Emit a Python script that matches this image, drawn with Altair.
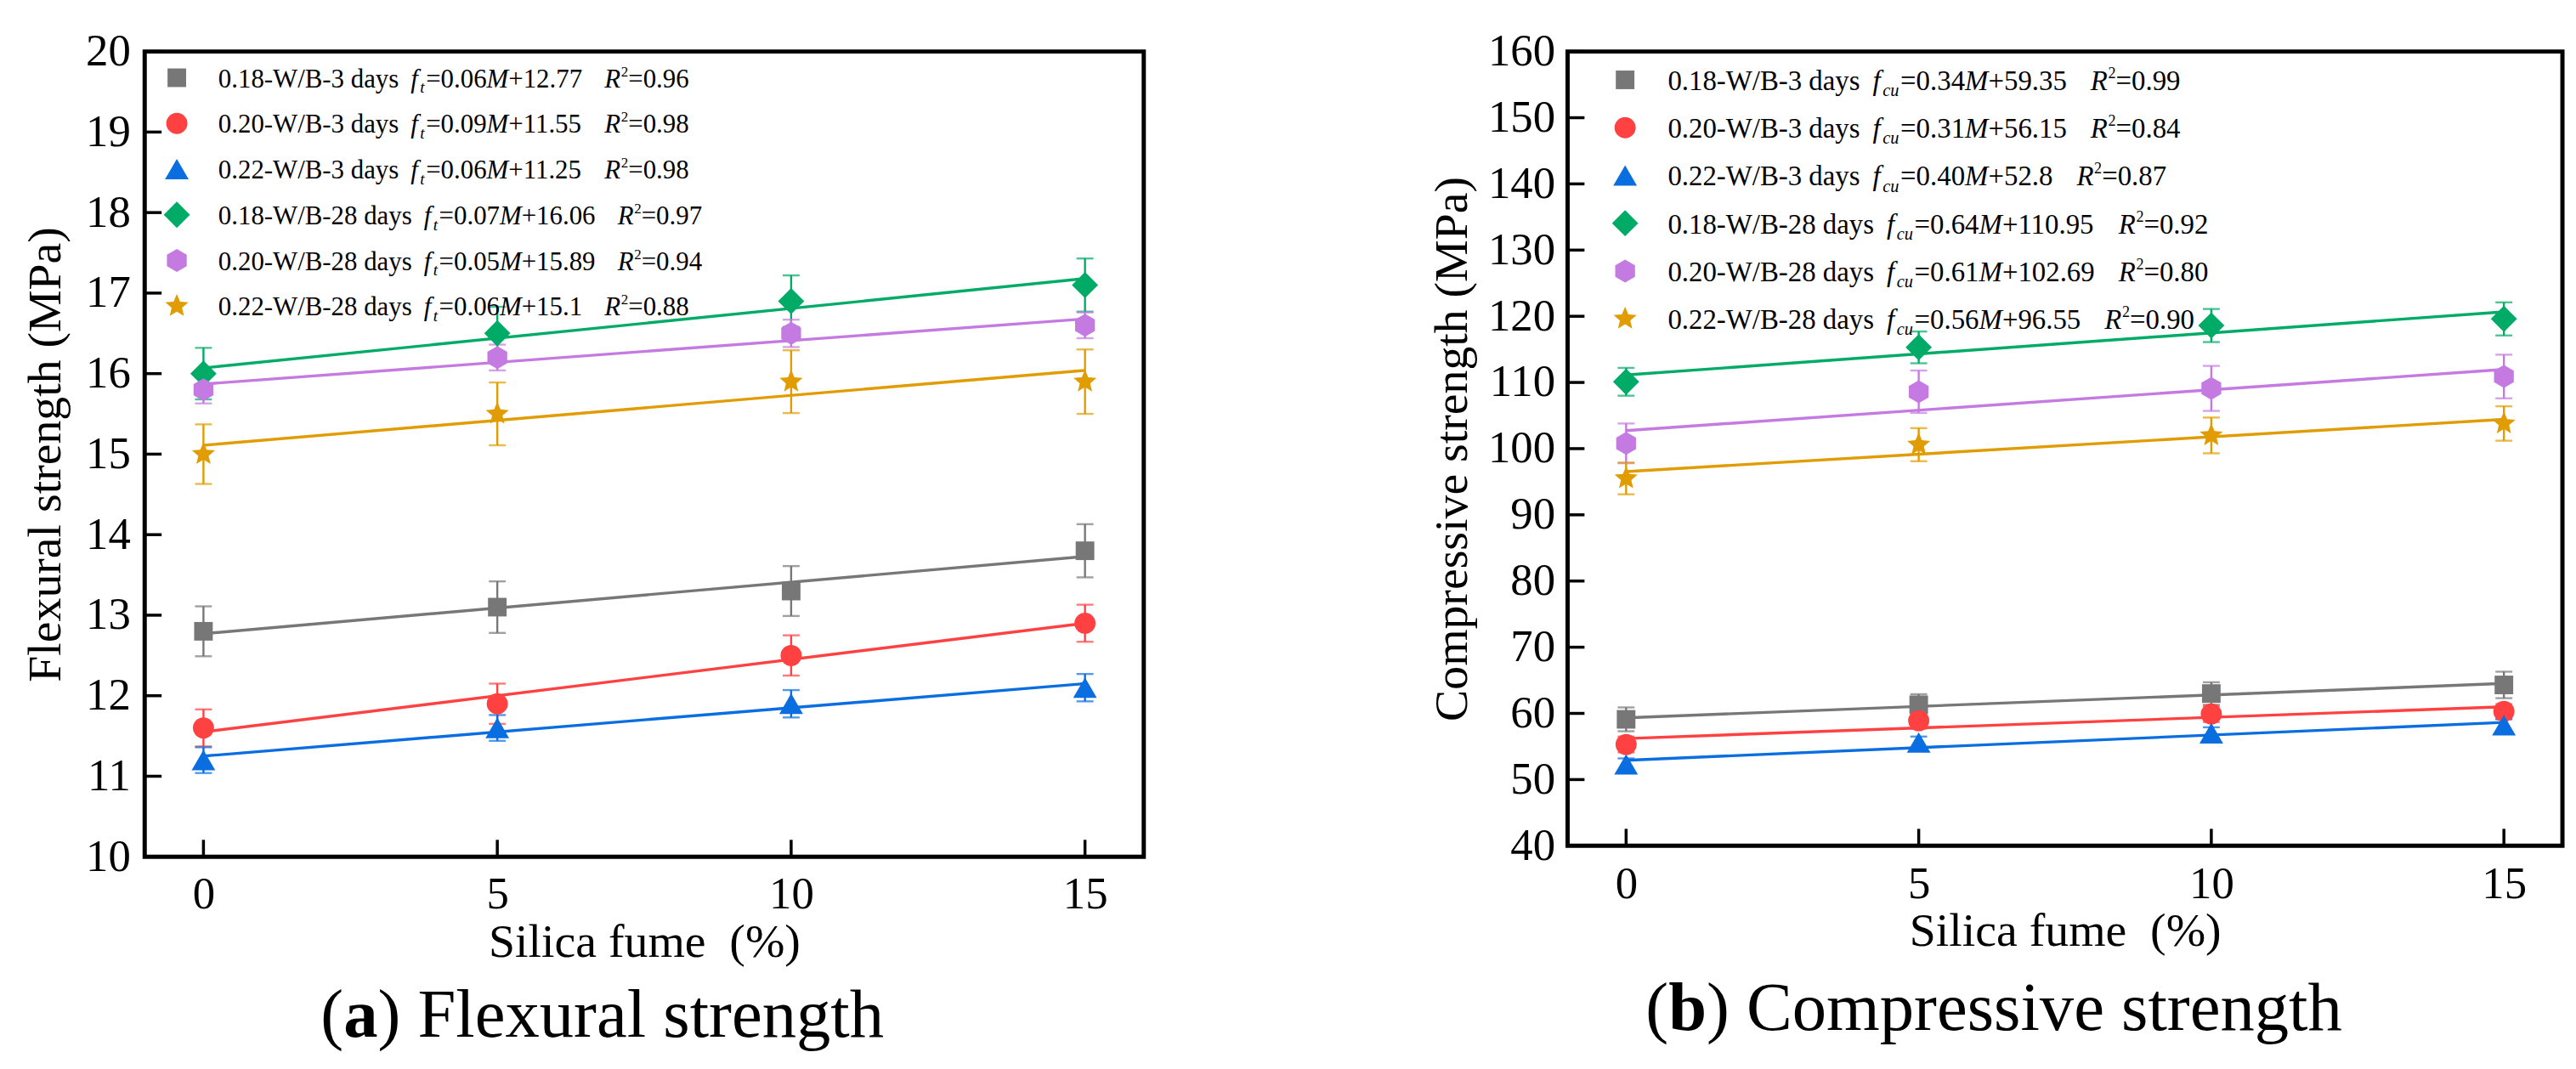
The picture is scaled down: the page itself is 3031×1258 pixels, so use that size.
import altair as alt
import pandas as pd

FONT = "Liberation Serif"

SILICA_FUME = [0, 5, 10, 15]
SERIES = ["0.18-W/B-3 days", "0.20-W/B-3 days", "0.22-W/B-3 days",
          "0.18-W/B-28 days", "0.20-W/B-28 days", "0.22-W/B-28 days"]
COLORS = ["#777777", "#FF4141", "#0A6EE0", "#00AB68", "#C47AE1", "#E09C00"]
HEXAGON = "M0,-1L0.866,-0.5L0.866,0.5L0,1L-0.866,0.5L-0.866,-0.5Z"
STAR = ("M0,-1L0.265,-0.364L0.951,-0.309L0.428,0.139L0.588,0.809L0,0.45"
        "L-0.588,0.809L-0.428,0.139L-0.951,-0.309L-0.265,-0.364Z")
SHAPES = ["square", "circle", "triangle-up", "diamond", HEXAGON, STAR]
SIZES = [484, 625, 784, 961, 730, 820]

# (a) Flexural strength (MPa)
FLEX_MEAN = [
    [12.8, 13.1, 13.3, 13.8],
    [11.6, 11.9, 12.5, 12.9],
    [11.2, 11.6, 11.9, 12.1],
    [16.0, 16.5, 16.9, 17.1],
    [15.8, 16.2, 16.5, 16.6],
    [15.0, 15.5, 15.9, 15.9],
]
FLEX_ERR = [
    [0.31, 0.32, 0.31, 0.33],
    [0.23, 0.25, 0.25, 0.23],
    [0.16, 0.16, 0.17, 0.17],
    [0.32, 0.33, 0.32, 0.33],
    [0.17, 0.16, 0.17, 0.16],
    [0.37, 0.39, 0.39, 0.40],
]
FLEX_SLOPE = ["0.06", "0.09", "0.06", "0.07", "0.05", "0.06"]
FLEX_ICPT = ["12.77", "11.55", "11.25", "16.06", "15.89", "15.1"]
FLEX_R2 = ["0.96", "0.98", "0.98", "0.97", "0.94", "0.88"]
FLEX_YTICKS = [10, 11, 12, 13, 14, 15, 16, 17, 18, 19, 20]

# (b) Compressive strength (MPa)
COMP_MEAN = [
    [59.1, 61.3, 63.0, 64.3],
    [55.3, 58.9, 59.9, 60.3],
    [52.3, 55.6, 57.0, 58.2],
    [110.1, 115.3, 118.6, 119.6],
    [100.8, 108.6, 109.1, 110.9],
    [95.5, 100.6, 102.0, 103.8],
]
COMP_ERR = [
    [1.8, 1.6, 1.7, 2.0],
    [1.2, 1.2, 1.2, 1.1],
    [0.9, 0.9, 0.9, 0.9],
    [2.1, 2.4, 2.5, 2.5],
    [3.0, 3.2, 3.4, 3.3],
    [2.4, 2.5, 2.7, 2.6],
]
COMP_SLOPE = ["0.34", "0.31", "0.40", "0.64", "0.61", "0.56"]
COMP_ICPT = ["59.35", "56.15", "52.8", "110.95", "102.69", "96.55"]
COMP_R2 = ["0.99", "0.84", "0.87", "0.92", "0.80", "0.90"]
COMP_YTICKS = [40, 50, 60, 70, 80, 90, 100, 110, 120, 130, 140, 150, 160]

# Times/Liberation Serif advance widths (per 1000 em) for text layout
REG = {c: 500 for c in "0123456789"}
REG.update({".": 250, "-": 333, "W": 944, "/": 278, "B": 667, " ": 250, "d": 500,
            "a": 444, "y": 500, "s": 389, "=": 564, "+": 564, "(": 333, ")": 333,
            "F": 556, "l": 278, "e": 444, "x": 500, "u": 500, "r": 333, "t": 278,
            "n": 500, "g": 500, "h": 500, "C": 667, "o": 500, "m": 778, "p": 500,
            "i": 278, "v": 500})
ITA = {"f": 278, "t": 278, "c": 444, "u": 500, "M": 833, "R": 611}
BLD = {"a": 500, "b": 556}


def tw(s, table, size):
    return sum(table.get(ch, 500) for ch in s) * size / 1000.0


XDOM = [-1, 16]
SIZE_OF = dict(zip(SERIES, SIZES))


def panel(means, errs, slopes, icpts, r2s, subtxt, ytitle, ydom, yticks,
          W, H, leg, cap_letter, cap_text, cap_cx, cap_base, ylabpad, ytitpad):
    def to_x(px):
        return XDOM[0] + px / W * (XDOM[1] - XDOM[0])

    def to_y(py):
        return ydom[1] - py / H * (ydom[1] - ydom[0])

    xaxis = alt.Axis(values=SILICA_FUME, format="d", title="Silica fume\u00a0 (%)",
                     labelFont=FONT, labelFontSize=53, labelColor="black",
                     labelPadding=19, labelFlush=False, titleFont=FONT,
                     titleFontSize=56, titleFontWeight="normal", titleColor="black",
                     titlePadding=2, domain=False, ticks=False, grid=False)
    yaxis = alt.Axis(values=yticks, format="d", title=ytitle,
                     labelFont=FONT, labelFontSize=53, labelColor="black",
                     labelPadding=ylabpad, labelFlush=False, titleFont=FONT,
                     titleFontSize=56, titleFontWeight="normal", titleColor="black",
                     titlePadding=ytitpad, domain=False, ticks=False, grid=False)

    def X(f):
        return alt.X(f"{f}:Q", scale=alt.Scale(domain=XDOM, nice=False, zero=False), axis=xaxis)

    def Y(f):
        return alt.Y(f"{f}:Q", scale=alt.Scale(domain=ydom, nice=False, zero=False), axis=yaxis)

    color = alt.Color("series:N", scale=alt.Scale(domain=SERIES, range=COLORS), legend=None)
    shape = alt.Shape("series:N", scale=alt.Scale(domain=SERIES, range=SHAPES), legend=None)
    size = alt.Size("msize:Q", scale=None, legend=None)

    rows = []
    for s, m, e in zip(SERIES, means, errs):
        for x, v, d in zip(SILICA_FUME, m, e):
            rows.append({"series": s, "sf": x, "val": v, "lo": v - d, "hi": v + d,
                         "msize": SIZE_OF[s]})
    df = pd.DataFrame(rows)
    base = alt.Chart(df)

    lines = base.transform_regression("sf", "val", groupby=["series"], extent=[0, 15]).mark_line(
        strokeWidth=3.4).encode(x=X("sf"), y=Y("val"), color=color)
    bars = base.mark_rule(strokeWidth=2.4).encode(x=X("sf"), y=Y("lo"), y2="hi:Q", color=color)
    cap_lo = base.mark_tick(orient="horizontal", size=20, thickness=2.4).encode(
        x=X("sf"), y=Y("lo"), color=color)
    cap_hi = base.mark_tick(orient="horizontal", size=20, thickness=2.4).encode(
        x=X("sf"), y=Y("hi"), color=color)
    pts = base.mark_point(filled=True, opacity=1).encode(
        x=X("sf"), y=Y("val"), color=color, shape=shape, size=size)

    # inward ticks
    xt = alt.Chart(pd.DataFrame({"t": SILICA_FUME})).mark_rule(
        color="black", strokeWidth=3.5).encode(x=X("t"), y=alt.value(H), y2=alt.value(H - 20))
    yt = alt.Chart(pd.DataFrame({"t": yticks})).mark_rule(
        color="black", strokeWidth=3.5).encode(y=Y("t"), x=alt.value(0), x2=alt.value(20))

    # legend
    F, symx, x0, cy0, step = leg
    sym_rows, reg, ita, sub, sup = [], [], [], [], []
    for i, (lab, sl, ic, r2) in enumerate(zip(SERIES, slopes, icpts, r2s)):
        cy = cy0 + i * step
        bl = cy + 0.36 * F
        sym_rows.append({"series": lab, "lx": to_x(symx), "ly": to_y(cy), "msize": SIZE_OF[lab]})
        x = x0
        reg.append((x, bl, lab)); x += tw(lab, REG, F) + 0.45 * F
        ita.append((x, bl, "f")); x += tw("f", ITA, F) + 0.08 * F
        sub.append((x, bl + 0.22 * F, subtxt)); x += tw(subtxt, ITA, 0.62 * F) + 0.05 * F
        reg.append((x, bl, "=" + sl)); x += tw("=" + sl, REG, F)
        ita.append((x, bl, "M")); x += tw("M", ITA, F)
        reg.append((x, bl, "+" + ic)); x += tw("+" + ic, REG, F) + 0.85 * F
        ita.append((x, bl, "R")); x += tw("R", ITA, F) + 0.02 * F
        sup.append((x, bl - 0.42 * F, "2")); x += tw("2", REG, 0.55 * F)
        reg.append((x, bl, "=" + r2))

    def tdf(items):
        return pd.DataFrame([{"tx": to_x(a), "ty": to_y(b), "text": t} for a, b, t in items])

    leg_sym = alt.Chart(pd.DataFrame(sym_rows)).mark_point(filled=True, opacity=1).encode(
        x=X("lx"), y=Y("ly"), color=color, shape=shape, size=size)

    def txt(items, **kw):
        return alt.Chart(tdf(items)).mark_text(align="left", baseline="alphabetic", font=FONT,
                                               color="black", **kw).encode(
            x=X("tx"), y=Y("ty"), text="text:N")

    t_reg = txt(reg, fontSize=F)
    t_ita = txt(ita, fontSize=F, fontStyle="italic")
    t_sub = txt(sub, fontSize=0.62 * F, fontStyle="italic")
    t_sup = txt(sup, fontSize=0.55 * F)

    # caption
    CF = 81
    total = (tw("(", REG, CF) + tw(cap_letter, BLD, CF) + tw(")", REG, CF)
             + tw(" ", REG, CF) + tw(cap_text, REG, CF))
    cx = cap_cx - total / 2
    c1 = [(cx, cap_base, "(")]
    cx += tw("(", REG, CF)
    c2 = [(cx, cap_base, cap_letter)]
    cx += tw(cap_letter, BLD, CF)
    c3 = [(cx, cap_base, ")")]
    cx += tw(")", REG, CF) + tw(" ", REG, CF)
    c3.append((cx, cap_base, cap_text))
    cap_r = txt(c1 + c3, fontSize=CF)
    cap_b = txt(c2, fontSize=CF, fontWeight="bold")

    return alt.layer(lines, bars, cap_lo, cap_hi, pts, xt, yt, leg_sym,
                     t_reg, t_ita, t_sub, t_sup, cap_r, cap_b).properties(width=W, height=H)


left = panel(FLEX_MEAN, FLEX_ERR, FLEX_SLOPE, FLEX_ICPT, FLEX_R2, "t",
             "Flexural strength (MPa)", [10, 20], FLEX_YTICKS, 1181, 952,
             (31, 38, 87, 31, 54), "a", "Flexural strength", 541, 1165, 17, 18)
right = panel(COMP_MEAN, COMP_ERR, COMP_SLOPE, COMP_ICPT, COMP_R2, "cu",
              "Compressive strength (MPa)", [40, 160], COMP_YTICKS, 1176, 939,
              (33, 68, 118.5, 33.5, 56.5), "b", "Compressive strength", 504, 1157, 15, 13)

chart = alt.hconcat(left, right, spacing=331).properties(
    padding={"left": 15, "top": 21, "right": 5, "bottom": 5}, background="white"
).configure_view(stroke="black", strokeWidth=5)

chart.save("out.html", embed_options={"renderer": "svg", "actions": False})
